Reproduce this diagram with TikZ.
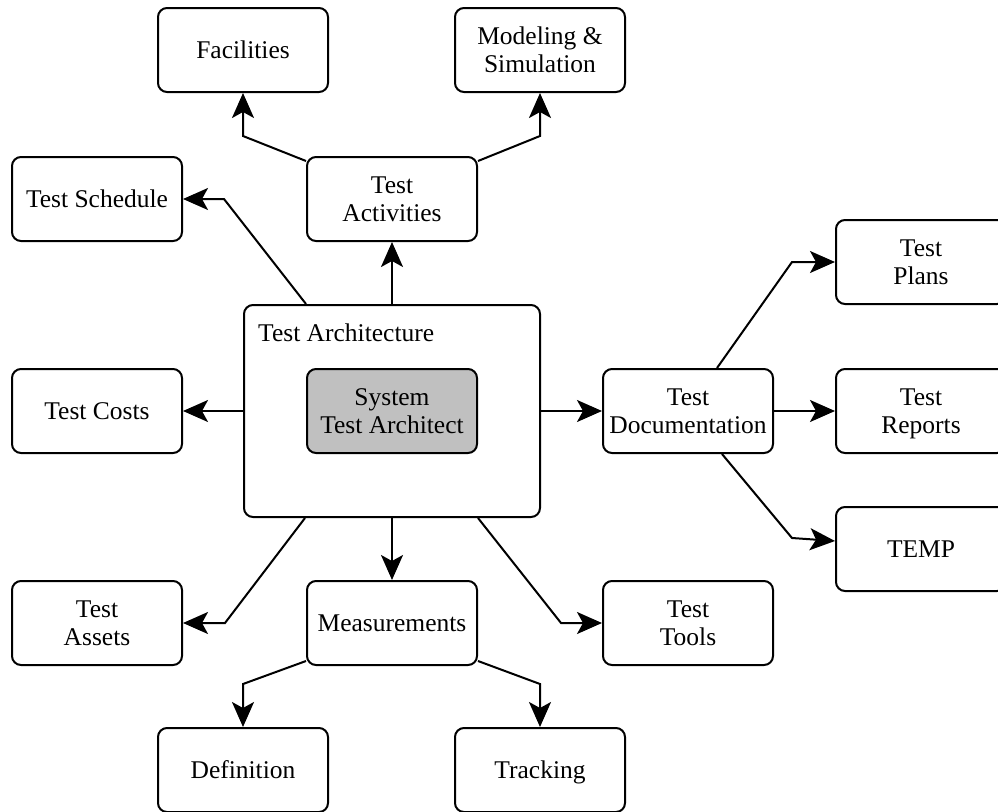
\documentclass[tikz,border=0pt]{standalone}
\usepackage{fontspec}
\setmainfont{Liberation Serif}
\usetikzlibrary{arrows.meta,calc}
\definecolor{archfill}{RGB}{192,192,192}
\begin{document}
\begin{tikzpicture}[x=1pt,y=-1pt,
  txt/.style={font=\fontsize{25.5}{28}\selectfont},
  box/.style={txt, draw, line width=2pt, rounded corners=9pt, fill=white,
    minimum width=170pt, minimum height=84pt, inner sep=0pt, align=center,
    text depth=0pt, execute at begin node={\rule{0pt}{17pt}}},
  arr/.style={line width=2pt, -{Stealth[length=25pt,width=22pt,inset=6pt]}}]
\useasboundingbox (0,0) rectangle (998,811);

% central container with its title
\node[draw, line width=2pt, rounded corners=9pt, minimum width=296pt,
  minimum height=212pt, inner sep=0pt] (arch) at (392,411) {};
\node[txt, anchor=base west, inner sep=0pt] (archlbl) at (258,341) {Test Architecture};
\node[box, fill=archfill] (sta) at (392,411) {System\\Test Architect};

% surrounding nodes
\node[box] (fac)     at (243,50)  {Facilities};
\node[box] (mod)     at (540,50)  {Modeling \&\\Simulation};
\node[box] (sched)   at (97,199)  {Test Schedule};
\node[box] (act)     at (392,199) {Test\\Activities};
\node[box] (costs)   at (97,411)  {Test Costs};
\node[box] (doc)     at (688,411) {Test\\Documentation};
\node[box] (plans)   at (921,262) {Test\\Plans};
\node[box] (reports) at (921,411) {Test\\Reports};
\node[box] (temp)    at (921,549) {TEMP};
\node[box] (assets)  at (97,623)  {Test\\Assets};
\node[box] (meas)    at (392,623) {Measurements};
\node[box] (tools)   at (688,623) {Test\\Tools};
\node[box] (def)     at (243,770) {Definition};
\node[box] (track)   at (540,770) {Tracking};

% connectors
\draw[arr] (arch.north) -- (act.south);
\draw[arr] ($(act.north west)+(0,5)$) -- ($(fac.south)+(0,43)$) -- (fac.south);
\draw[arr] ($(act.north east)+(0,5)$) -- ($(mod.south)+(0,43)$) -- (mod.south);
\draw[arr] ($(arch.north west)+(63,0)$) -- ($(sched.east)+(41,0)$) -- (sched.east);
\draw[arr] (arch.west) -- (costs.east);
\draw[arr] (arch.east) -- (doc.west);
\draw[arr] ($(doc.north west)+(115,0)$) -- ($(plans.west)+(-43,0)$) -- (plans.west);
\draw[arr] (doc.east) -- (reports.west);
\draw[arr] ($(doc.south west)+(120,0)$) -- ($(temp.west)+(-43,-11)$) -- ($(temp.west)+(0,-8)$);
\draw[arr] ($(arch.south west)+(62,0)$) -- ($(assets.east)+(42,0)$) -- (assets.east);
\draw[arr] (arch.south) -- (meas.north);
\draw[arr] ($(arch.south east)+(-63,0)$) -- ($(tools.west)+(-41,0)$) -- (tools.west);
\draw[arr] ($(meas.south west)+(0,-5)$) -- ($(def.north)+(0,-43)$) -- (def.north);
\draw[arr] ($(meas.south east)+(0,-5)$) -- ($(track.north)+(0,-43)$) -- (track.north);
\end{tikzpicture}
\end{document}
